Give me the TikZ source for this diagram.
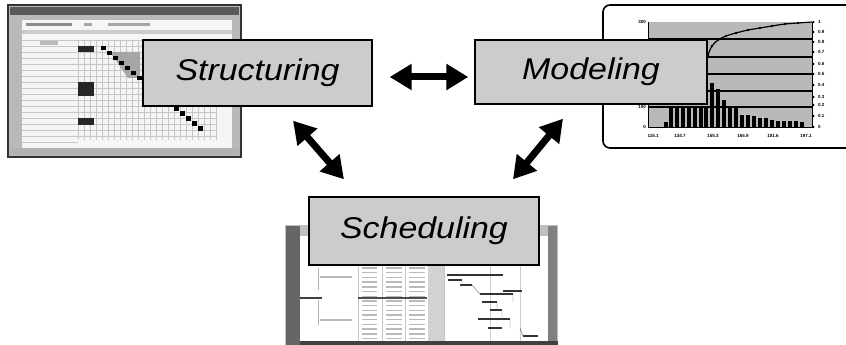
\documentclass[tikz,border=0pt]{standalone}
\usepackage{fontspec}
\setmainfont{Liberation Sans}
\newfontfamily\lblfont[FakeStretch=1.13]{Liberation Sans}
\usetikzlibrary{arrows.meta}
\tikzset{
  labelbox/.style={draw=black, line width=1.4pt, fill=gray!40, inner sep=0pt,
    font=\lblfont\itshape\fontsize{30}{30}\selectfont},
  dblarrow/.style={line width=7pt,
    {Triangle[length=22pt,width=25pt]}-{Triangle[length=22pt,width=25pt]}},
  gridline/.style={gray!45, line width=0.5pt},
  bar/.style={fill=black},
  tinytext/.style={font=\fontsize{4.5}{5}\selectfont\bfseries, inner sep=0pt},
  ganttbar/.style={line width=2.4pt, black!80},
  cellmark/.style={line width=1.4pt, gray!55}
}
\begin{document}
\begin{tikzpicture}[x=1pt,y=-1pt]
\useasboundingbox (0,0) rectangle (846,345);

% ---------- Structuring screenshot ----------
\fill[gray!55] (8,5) rectangle (241,157);
\draw[line width=1.2pt, black!80] (8,5) rectangle (241,157);
\fill[black!65] (10,7) rectangle (239,15);
\fill[gray!8] (22,20) rectangle (232,148);
\fill[black!45] (26,23) rectangle (72,26);
\fill[black!35] (84,23) rectangle (92,26);
\fill[black!35] (108,23) rectangle (150,26);
\fill[gray!40] (22,30) rectangle (232,34);
\fill[gray!55] (40,41) rectangle (58,45);
\foreach \y in {40,46,...,146} \draw[gridline] (22,\y) -- (78,\y);
\foreach \x in {78,84,...,216} \draw[gridline] (\x,40) -- (\x,140);
\foreach \y in {40,46,...,140} \draw[gridline] (78,\y) -- (216,\y);
\fill[black!85] (78,46) rectangle (94,52);
\fill[black!85] (78,82) rectangle (94,96);
\fill[black!85] (78,118) rectangle (94,125);
\fill[gray!70] (110,52) -- (140,52) -- (140,78) -- (128,78) -- cycle;
\foreach \i in {0,...,16} \fill[black] ({101+6.05*\i},{46+5*\i}) rectangle +(5,4.5);
\fill[gray!60] (10,148) rectangle (239,155);

% ---------- Scheduling screenshot ----------
\fill[gray!50] (285,225) rectangle (558,345);
\fill[black!60] (286,226) rectangle (300,345);
\fill[black!50] (548,226) rectangle (557,345);
\fill[white] (300,236) rectangle (548,342);
\foreach \x in {358,382,405,428,444} \draw[gridline] (\x,236) -- (\x,342);
\foreach \y in {268,272.7,...,340} {
  \draw[cellmark] (362,\y) -- (377,\y);
  \draw[cellmark] (386,\y) -- (402,\y);
  \draw[cellmark] (409,\y) -- (425,\y);
}
\fill[gray!35] (428,236) rectangle (444,342);
\draw[line width=1.6pt, black!75] (300,298) -- (322,298);
\draw[line width=1.6pt, black!70] (358,298) -- (427,298);
\draw[cellmark] (320,277) -- (352,277);
\draw[cellmark] (320,320) -- (352,320);
\draw[gray!60] (318,268) -- (318,290);
\draw[gray!60] (318,300) -- (318,325);
\draw[gray!40] (520,236) -- (520,342);
\draw[gray!40] (490,236) -- (490,342);
\draw[ganttbar] (447,275) -- (503,275);
\draw[ganttbar] (448,280) -- (462,280);
\draw[ganttbar] (460,285) -- (472,285);
\draw[ganttbar] (503,291) -- (522,291);
\draw[ganttbar] (480,294) -- (513,294);
\draw[ganttbar] (482,302) -- (497,302);
\draw[ganttbar] (490,310) -- (502,310);
\draw[ganttbar] (478,319) -- (510,319);
\draw[ganttbar] (488,328) -- (502,328);
\draw[ganttbar] (523,336) -- (538,336);
\draw[black!60] (462,280) -- (462,285) (472,285) -- (480,294) (513,294) -- (513,302)
  (497,302) -- (497,310) (502,310) -- (502,319) (510,319) -- (510,328) (520,328) -- (523,336);
\fill[black!75] (300,341) rectangle (558,345);

% ---------- Modeling chart ----------
\draw[line width=1.6pt, rounded corners=7pt] (860,148) -- (603,148) -- (603,5) -- (860,5);
\fill[gray!55] (648,22) rectangle (812,127);
\foreach \y in {39,57,74,91,107} \draw[line width=1.6pt] (648,\y) -- (812,\y);
\draw[line width=1pt] (648,22) -- (648,127) -- (812,127) -- (812,22);
\foreach \x/\t in {666/122,671/107,677/107,683/107,689/107,695/107,701/107,706/107,
  712/83,718/89,724/100,730/107,736/107,742/115,748/115,754/116,760/118,766/118,
  772/120,778/121,784/121,790/121,796/121,802/122}
  \fill[bar] (\x-2,\t) rectangle (\x+2,127);
\draw[line width=1.2pt] plot[smooth] coordinates {(697,100) (704,68) (708,55) (712,46) (718,40) (726,36) (736,33) (748,30) (760,28) (772,26) (785,24) (798,23) (812,22)};
\foreach \p in {(708,55),(712,46),(718,40),(726,36),(736,33),(748,30),(760,28),(772,26),(785,24),(798,23)}
  \fill \p circle (1.3);
\foreach \y/\t in {22/1,32/0.9,42/0.8,52/0.7,64/0.6,74/0.5,85/0.4,97/0.3,105/0.2,116/0.1,127/0} {
  \fill (813.5,\y) circle (1.2);
  \node[tinytext, anchor=west] at (818,\y) {\t};
}
\node[tinytext, anchor=east] at (646,22) {300};
\node[tinytext, anchor=east] at (646,107) {100};
\node[tinytext, anchor=east] at (646,127) {0};
\foreach \x/\t in {653/115.1,680/134.7,713/155.3,743/165.9,773/181.6,806/197.1}
  \node[tinytext] at (\x,136) {\t};

% ---------- Label boxes ----------
\node[labelbox, minimum width=229pt, minimum height=66pt] (S) at (257.5,73) {Structuring};
\node[labelbox, minimum width=232pt, minimum height=64pt] (M) at (591,72) {Modeling};
\node[labelbox, minimum width=230pt, minimum height=68pt] (C) at (424,231) {Scheduling};

% ---------- Arrows ----------
\draw[dblarrow] ([xshift=17pt,yshift=-4pt]S.east) -- ([xshift=-6pt,yshift=-5pt]M.west);
\draw[dblarrow] ([xshift=35.5pt,yshift=-14pt]S.south) -- ([xshift=-80pt,yshift=17pt]C.north);
\draw[dblarrow] ([xshift=-28pt,yshift=-14pt]M.south) -- ([xshift=89pt,yshift=17pt]C.north);
\end{tikzpicture}
\end{document}
